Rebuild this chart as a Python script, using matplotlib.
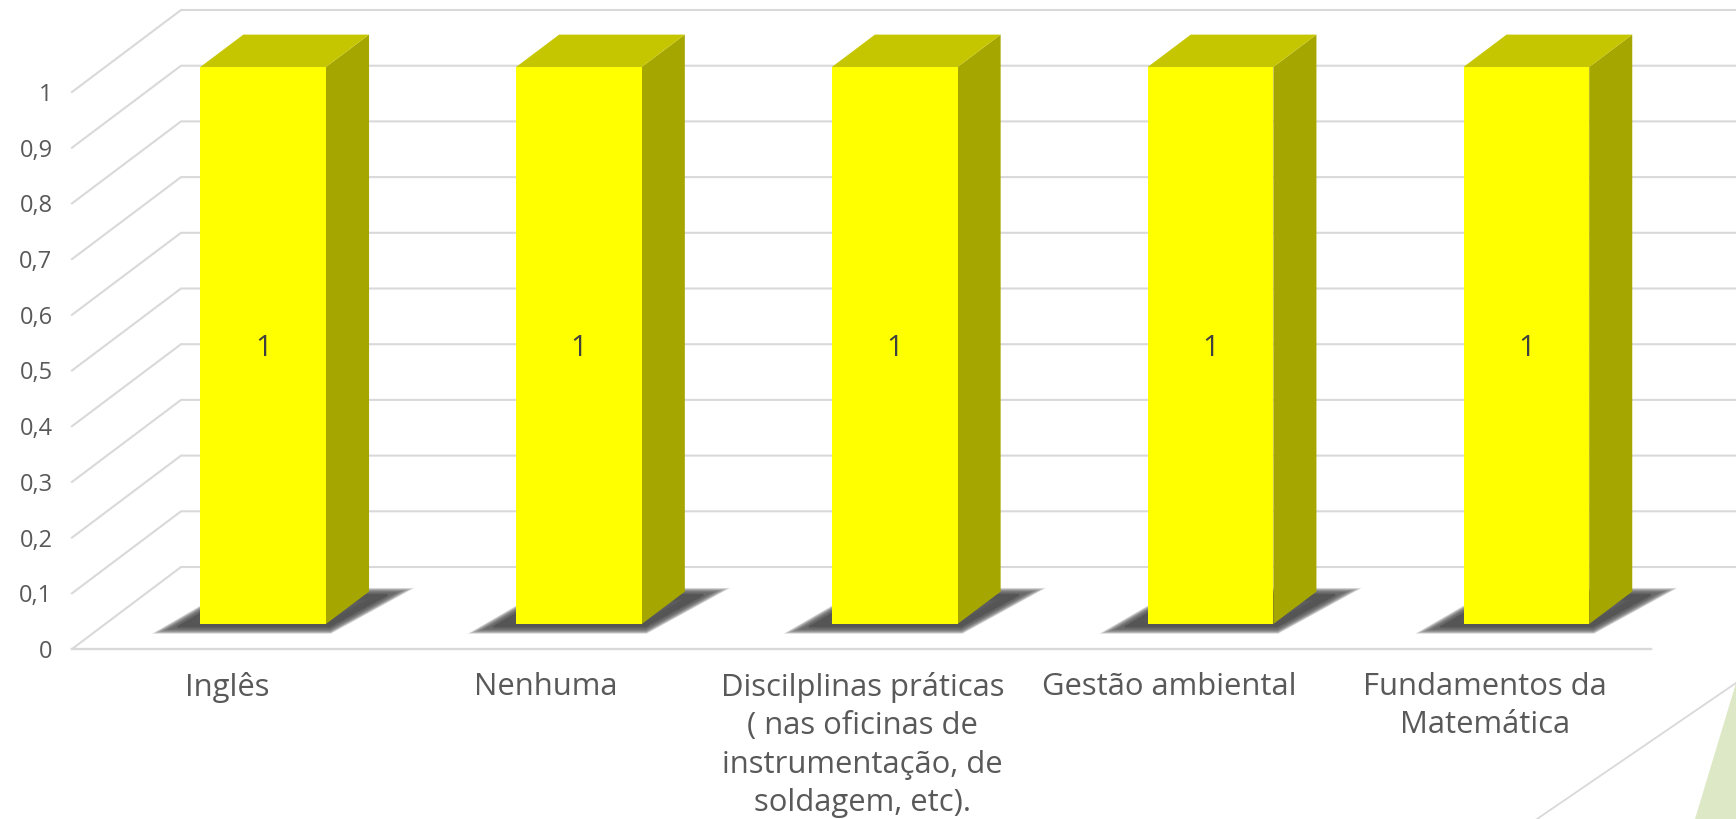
import matplotlib
matplotlib.use("Agg")
import matplotlib.pyplot as plt
from matplotlib.patches import Polygon

categories = ["Inglês", "Nenhuma", "Discilplinas práticas\n( nas oficinas de\ninstrumentação, de\nsoldagem, etc).",
              "Gestão ambiental", "Fundamentos da\nMatemática"]
values = [1, 1, 1, 1, 1]
y_ticks = [0, 0.1, 0.2, 0.3, 0.4, 0.5, 0.6, 0.7, 0.8, 0.9, 1]
y_tick_labels = ["0", "0,1", "0,2", "0,3", "0,4", "0,5", "0,6", "0,7", "0,8", "0,9", "1"]
label_nudge = [-0.007, 0, 0.003, -0.025, -0.025]

W, H = 1736, 819
L, R, B, T = 72, 1651, 649, 92
DX = 109 / ((R - L) / 5)      # depth shift, x data units
DY = 82 / (B - T)             # depth shift, y data units
FONT = "Open Sans"
GRID = "#d9d9d9"
TXT = "#595959"

fig = plt.figure(figsize=(W / 100, H / 100), dpi=100, facecolor="white")
ax = fig.add_axes([L / W, 1 - B / H, (R - L) / W, (B - T) / H])
ax.set_xlim(0, len(categories))
ax.set_ylim(0, 1)
ax.patch.set_visible(False)
for s in ax.spines.values():
    s.set_visible(False)


def proj(x, y, d):
    return x + d * DX, y + d * DY


# decoration bottom right
fig.add_artist(Polygon([(1736 / W, 1 - 683 / H), (1695 / W, 0), (1, 0)], closed=True,
                       transform=fig.transFigure, fc="#dde9c6", ec="none", zorder=0))
fig.add_artist(plt.Line2D([1736 / W, 1537 / W], [1 - 683 / H, 0], transform=fig.transFigure,
                          color=GRID, lw=1.3, zorder=0))

# walls / grid
n = len(categories)
for v in y_ticks:
    x0, y0 = proj(0, v, 0)
    x1, y1 = proj(0, v, 1)
    x2, y2 = proj(n, v, 1)
    ax.plot([x0, x1, x2], [y0, y1, y2], color=GRID, lw=1.5, clip_on=False, zorder=1, solid_joinstyle="miter")
ax.plot([0, n], [0, 0], color=GRID, lw=1.7, clip_on=False, zorder=1)

# bars
bw = 0.398
d0, d1 = 0.305, 0.70
shadow_steps = 20
for i, v in enumerate(values):
    cx = i + 0.5 - bw / 2
    xl, base = proj(cx, 0, d0)
    xr = xl + bw
    # soft floor shadow
    sh = [proj(cx - 0.06, 0, 0.27), proj(cx + 0.42, 0, 0.27),
          proj(cx + 0.47, 0, 0.66), proj(cx - 0.02, 0, 0.66)]
    for k in range(shadow_steps):
        lw = 10 * (1 - k / shadow_steps)
        ax.add_patch(Polygon(sh, closed=True, fc="#555555", ec="#555555", lw=lw, alpha=0.12,
                             clip_on=False, zorder=2, joinstyle="miter"))
    # side and top faces
    dd = d1 - d0
    side = [(xr, base), (xr + dd * DX, base + dd * DY), (xr + dd * DX, base + dd * DY + v), (xr, base + v)]
    top = [(xl, base + v), (xr, base + v), (xr + dd * DX, base + v + dd * DY), (xl + dd * DX, base + v + dd * DY)]
    ax.add_patch(Polygon(side, closed=True, fc="#a6a600", ec="none", clip_on=False, zorder=3))
    ax.add_patch(Polygon(top, closed=True, fc="#c6c600", ec="none", clip_on=False, zorder=3))
    ax.bar(xl, v, width=bw, bottom=base, align="edge", color="#ffff00", clip_on=False, zorder=4)
    ax.text(xl + bw / 2, base + v / 2 - 0.006, str(v), ha="center", va="center", fontsize=21,
            color="#404040", family=FONT, zorder=5)

# axes text
ax.set_yticks(y_ticks, y_tick_labels, family=FONT, fontsize=17, color=TXT)
ax.set_xticks([i + 0.5 + label_nudge[i] for i in range(n)], categories, family=FONT, fontsize=22.3,
              color=TXT, linespacing=1.37)
ax.tick_params(axis="y", length=0, pad=14)
ax.tick_params(axis="x", length=0, pad=16.5)

fig.savefig("out.png", dpi=100, facecolor="white")
